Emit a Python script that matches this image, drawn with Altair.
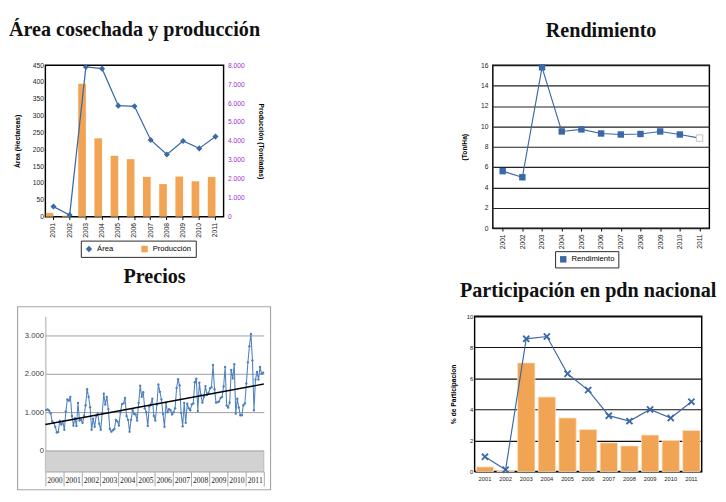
import altair as alt
import pandas as pd

# ---------------- data ----------------
years = ["2001", "2002", "2003", "2004", "2005", "2006", "2007", "2008", "2009", "2010", "2011"]
area_ha = [30, 5, 445, 440, 330, 328, 228, 185, 225, 203, 238]
prod_t = [200, 50, 7020, 4140, 3220, 3040, 2100, 1720, 2120, 1870, 2100]
rendimiento = [5.6, 5.0, 15.8, 9.5, 9.7, 9.3, 9.2, 9.25, 9.5, 9.2, 8.85]
part_area = [0.95, 0.12, 8.55, 8.7, 6.3, 5.25, 3.6, 3.25, 4.0, 3.45, 4.5]
part_prod = [0.3, 0.05, 7.0, 4.8, 3.45, 2.7, 1.85, 1.65, 2.35, 2.0, 2.65]

price_years = ["2000", "2001", "2002", "2003", "2004", "2005", "2006", "2007", "2008", "2009", "2010", "2011"]
precios = [
    1060, 1070, 1040, 970, 760, 720, 620, 470, 480, 770, 680, 760,
    540, 1020, 1330, 1300, 1400, 900, 650, 840, 640, 1240, 780, 800,
    720, 900, 1180, 1600, 1400, 1130, 540, 830, 620, 900, 960, 700,
    540, 980, 1480, 1200, 1400, 1080, 560, 490, 530, 560, 800, 760,
    650, 1000, 1210, 1230, 1370, 900, 800, 490, 800, 1050, 950, 940,
    780, 1240, 1690, 1400, 1520, 1100, 1000, 640, 1150, 1200, 1350, 900,
    780, 1200, 1720, 1530, 1330, 950, 620, 1240, 1000, 1080, 1050, 940,
    1000, 1100, 1630, 1860, 1700, 980, 630, 1240, 720, 1220, 1100, 1050,
    1200, 1230, 1780, 1870, 1030, 1770, 1450, 1250, 1400, 1680, 1450, 1500,
    1620, 1650, 2230, 1600, 1250, 1260, 1280, 1370, 1400, 1670, 2180, 1170,
    1120, 1250, 2100, 1880, 2250, 960, 1350, 1120, 920, 920, 1180, 1230,
    1750, 2300, 2720, 3040, 2350, 1050, 1850, 2050, 1850, 2180, 2000, 2030,
]

# ---------------- styles ----------------
BLUE = "#3b68a6"
ORANGE = "#f0a454"
PURPLE = "#9b33cc"
PRICE_BLUE = "#4f81bd"
TITLE_FONT = "Liberation Serif"
LABEL_FONT = "Liberation Sans"
X_MARK = "M-1,-0.65L-0.65,-1L0,-0.35L0.65,-1L1,-0.65L0.35,0L1,0.65L0.65,1L0,0.35L-0.65,1L-1,0.65L-0.35,0Z"
DOT_FMT = "replace(format(datum.value, ','), ',', '.')"


def ptitle(text, offset):
    return alt.TitleParams(text=text, font=TITLE_FONT, fontSize=21, fontWeight="bold",
                           color="#111111", anchor="middle", offset=offset)


black_view = alt.ViewBackground(stroke="black", strokeWidth=1.5)

# ---------------- panel 1: Área cosechada y producción ----------------
df_area = pd.DataFrame({"year": years, "value": area_ha, "s1": ["Área"] * len(years)})
df_prod = pd.DataFrame({"year": years, "value": prod_t, "s1": ["Producción"] * len(years)})

x1 = alt.X("year:O", title=None, scale=alt.Scale(paddingInner=0, paddingOuter=0),
           axis=alt.Axis(labelAngle=270, labelFontSize=7, labelPadding=3, tickSize=3,
                         tickColor="black", domain=False, labelColor="#222"))
cs1 = alt.Scale(domain=["Área", "Producción"], range=[BLUE, ORANGE])
ss1 = alt.Scale(domain=["Área", "Producción"], range=["diamond", "square"])
leg1 = alt.Legend(title=None, orient="none", legendX=37, legendY=183, direction="horizontal",
                  strokeColor="#222", padding=4, labelFontSize=8, symbolSize=45,
                  columnPadding=28, fillColor="white")

bars1 = alt.Chart(df_prod).mark_bar(width=8, xOffset=-4).encode(
    x=x1,
    y=alt.Y("value:Q", scale=alt.Scale(domain=[0, 8000]),
            axis=alt.Axis(orient="right", values=list(range(0, 8001, 1000)), labelExpr=DOT_FMT,
                          labelColor=PURPLE, labelFontSize=7, grid=False, domain=False, ticks=False,
                          labelPadding=4, title="Producción (Toneladas)", titleFontSize=7,
                          titleFontWeight="bold", titlePadding=14)),
    color=alt.Color("s1:N", scale=cs1, legend=leg1),
)
y1 = alt.Y("value:Q", scale=alt.Scale(domain=[0, 450]),
           axis=alt.Axis(values=list(range(0, 451, 50)), labelFontSize=7, gridColor="#111",
                         gridWidth=1, domain=False, ticks=False, title="Área (Hectareas)",
                         titleFontSize=7, titleFontWeight="bold", titlePadding=12, labelColor="#222"))
line1 = alt.Chart(df_area).mark_line(color=BLUE, strokeWidth=1.3).encode(x=x1, y=y1)
pts1 = alt.Chart(df_area).mark_point(filled=True, size=40, opacity=1).encode(
    x=x1, y=y1,
    color=alt.Color("s1:N", scale=cs1, legend=leg1),
    shape=alt.Shape("s1:N", scale=ss1, legend=leg1),
)
p1 = alt.layer(bars1, alt.layer(line1, pts1)).resolve_scale(y="independent").properties(
    width=186, height=158, title=ptitle("Área cosechada y producción", 23), view=black_view)

# ---------------- panel 2: Rendimiento ----------------
df_rend = pd.DataFrame({"year": years, "value": rendimiento, "s2": ["Rendimiento"] * len(years)})
x2 = alt.X("year:O", title=None, scale=alt.Scale(paddingInner=0, paddingOuter=0),
           axis=alt.Axis(labelAngle=270, labelFontSize=7, labelPadding=3, tickSize=3,
                         tickColor="black", domain=False, labelColor="#222"))
y2 = alt.Y("value:Q", scale=alt.Scale(domain=[0, 16]),
           axis=alt.Axis(values=list(range(0, 17, 2)), labelFontSize=7, gridColor="#222",
                         gridWidth=1.2, domain=False, ticks=False, labelPadding=5, title="(Ton/Ha)",
                         titleFontSize=7, titleFontWeight="bold", titlePadding=14, labelColor="#222"))
# this legend is shared at the top level, so its position is given from the first panel's origin
leg2 = alt.Legend(title=None, orient="none", legendX=532, legendY=194, strokeColor="#222",
                  padding=4, labelFontSize=8, symbolSize=45, symbolType="square", fillColor="white")
line2 = alt.Chart(df_rend).mark_line(color=BLUE, strokeWidth=1.2).encode(x=x2, y=y2)
pts2 = alt.Chart(df_rend).transform_filter("datum.year != '2011'").mark_point(
    filled=True, size=45, shape="square", opacity=1).encode(
    x=x2, y=y2, fill=alt.Fill("s2:N", scale=alt.Scale(domain=["Rendimiento"], range=[BLUE]), legend=leg2))
last2 = alt.Chart(df_rend).transform_filter("datum.year == '2011'").mark_point(
    filled=True, size=45, shape="square", opacity=1, fill="white", stroke="#c0c0c0", strokeWidth=1).encode(x=x2, y=y2)
p2 = alt.layer(line2, pts2, last2).properties(
    width=226, height=170, title=ptitle("Rendimiento", 21), view=black_view)

# ---------------- panel 3: Precios ----------------
df_price = pd.DataFrame({"idx": [i + 0.5 for i in range(len(precios))], "price": precios})
x3 = alt.X("idx:Q", title=None, scale=alt.Scale(domain=[0, 144], nice=False, zero=False), axis=None)
y3 = alt.Y("price:Q", title=None, scale=alt.Scale(domain=[0, 3500]),
           axis=alt.Axis(values=list(range(0, 3501, 500)), labelExpr=DOT_FMT, gridColor="#9a9a9a",
                         domainColor="#a6a6a6", ticks=False, labelFontSize=8, labelColor="#404040"))
line3 = alt.Chart(df_price).mark_line(
    color=PRICE_BLUE, strokeWidth=1.1,
    point=alt.OverlayMarkDef(size=6, filled=True, color=PRICE_BLUE)).encode(x=x3, y=y3)
trend3 = alt.Chart(df_price).transform_regression("idx", "price", extent=[0, 144]).mark_line(
    color="black", strokeWidth=1.5).encode(x=alt.X("idx:Q"), y=alt.Y("price:Q"))
years3 = alt.Chart(pd.DataFrame({"yr": price_years})).mark_text(opacity=0).encode(
    x=alt.X("yr:O", title=None, scale=alt.Scale(paddingInner=0, paddingOuter=0),
            axis=alt.Axis(orient="bottom", offset=22, tickBand="extent", tickSize=15,
                          tickColor="#a6a6a6", domainColor="#a6a6a6", labelPadding=-10,
                          labelAngle=0, labelFont=TITLE_FONT, labelFontSize=8, labelColor="#222")),
    text="yr:N")
frame3 = alt.Chart(pd.DataFrame({"k": [0]})).mark_rect(
    fill="transparent", stroke="#a6a6a6", strokeWidth=1.2, clip=False).encode(
    x=alt.value(-29), x2=alt.value(235), y=alt.value(-10), y2=alt.value(181))
band3 = alt.Chart(pd.DataFrame({"k": [0]})).mark_rect(
    fill="#d2d2d2", stroke="#b0b0b0", strokeWidth=0.8, clip=False).encode(
    x=alt.value(0), x2=alt.value(228), y=alt.value(141), y2=alt.value(162))
p3 = alt.layer(frame3, band3, alt.layer(line3, trend3), years3).resolve_scale(
    x="independent").properties(
    width=228, height=140, title=ptitle("Precios", 20),
    view=alt.ViewBackground(stroke="transparent"))

# ---------------- panel 4: Participación en pdn nacional ----------------
df_parea = pd.DataFrame({"year": years, "value": part_area})
df_pprod = pd.DataFrame({"year": years, "value": part_prod})
x4 = alt.X("year:O", title=None, scale=alt.Scale(paddingInner=0.16, paddingOuter=0.08),
           axis=alt.Axis(labelAngle=0, labelFontSize=6, labelPadding=4, ticks=False, domain=False,
                         labelColor="#222"))
y4 = alt.Y("value:Q", scale=alt.Scale(domain=[0, 10]),
           axis=alt.Axis(values=list(range(0, 11, 2)), labelFontSize=6, gridColor="#111", gridWidth=1.2,
                         domain=False, ticks=False, title="% de Participacion", titleFontSize=7,
                         titleFontWeight="bold", titlePadding=10, labelColor="#222"))
bars4 = alt.Chart(df_pprod).mark_bar(color=ORANGE, stroke="#fbe2c4", strokeWidth=0.8).encode(x=x4, y=y4)
line4 = alt.Chart(df_parea).mark_line(color=BLUE, strokeWidth=1.2).encode(x=x4, y=y4)
pts4 = alt.Chart(df_parea).mark_point(filled=True, size=60, opacity=1, shape=X_MARK, color=BLUE).encode(x=x4, y=y4)
p4 = alt.layer(bars4, line4, pts4).properties(
    width=237, height=162, title=ptitle("Participación en pdn nacional", 13), view=black_view)

# ---------------- layout ----------------
row1 = alt.hconcat(p1, p2, spacing=202)
row2 = alt.hconcat(p3, p4, spacing=184)
chart = alt.vconcat(row1, row2, spacing=16).properties(
    padding={"left": 0, "top": 0, "right": 0, "bottom": 0}
).configure_axis(labelFont=LABEL_FONT, titleFont=LABEL_FONT).configure_legend(
    labelFont=LABEL_FONT)

chart.save("out.html", embed_options={"renderer": "svg", "actions": False})
